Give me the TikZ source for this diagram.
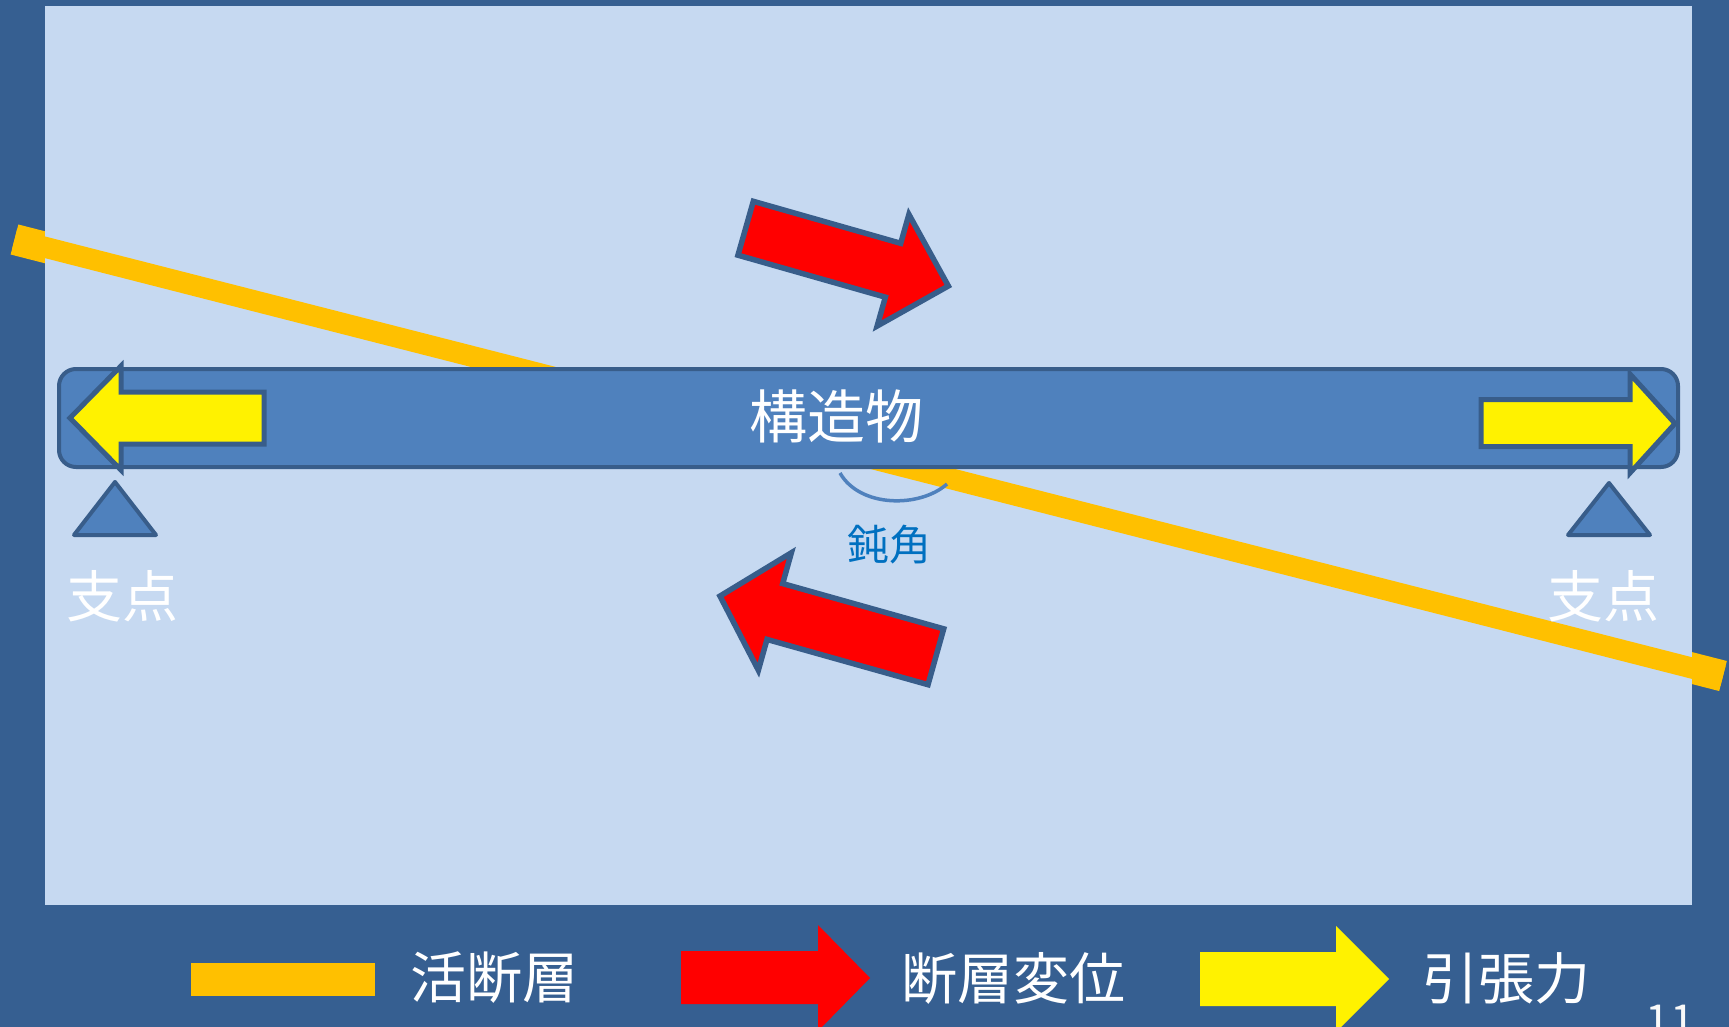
\documentclass[tikz,border=0pt]{standalone}
\usepackage{fontspec}
\newfontfamily\jp{Noto Sans CJK JP}
\definecolor{bgdark}{HTML}{365F91}
\definecolor{panelc}{HTML}{C6D9F1}
\definecolor{beamfill}{HTML}{4F81BD}
\definecolor{beamline}{HTML}{385D8A}
\definecolor{faultc}{HTML}{FFC000}
\definecolor{angc}{HTML}{0070C0}
\tikzset{
  fault/.style={draw=faultc, line cap=butt},
  beambox/.style={draw=beamline, fill=beamfill, line width=4pt, rounded corners=17pt},
  yarrow/.style={draw=beamline, fill=yellow, line width=5pt, line join=miter},
  rarrow/.style={draw=beamline, fill=red, line width=5.5pt, line join=miter},
  support/.style={draw=beamline, fill=beamfill, line width=4pt, line join=round},
  wlabel/.style={text=white, inner sep=0pt, font=\jp\fontsize{56}{60}\selectfont},
  kozolabel/.style={text=white, inner sep=0pt, font=\jp\fontsize{58}{62}\selectfont},
  anglabel/.style={text=angc, inner sep=0pt, font=\jp\fontsize{42}{46}\selectfont},
}
\begin{document}
\begin{tikzpicture}[x=1pt,y=-1pt]
\useasboundingbox (0,0) rectangle (1729,1027);
\clip (0,0) rectangle (1729,1027);
\fill[bgdark] (0,0) rectangle (1729,1027);
% fault line (thicker ends over the frame)
\coordinate (fA) at (14.5,239.5);
\coordinate (fB) at (1723,676);
\draw[fault, line width=31pt] (fA) -- (fB);
\fill[panelc] (45,6) rectangle (1692,905);
\draw[fault, line width=21pt] (fA) -- (fB);
% structure beam
\draw[beambox] (59,369) rectangle (1678,467);
\node[kozolabel] (kozo) at (836,416) {構造物};
% tension arrows on beam
\draw[yarrow] (70,418) -- (121,366) -- (121,392) -- (264,392) -- (264,444) -- (121,444) -- (121,470) -- cycle;
\draw[yarrow] (1481,399.5) -- (1630,399.5) -- (1630,374) -- (1675,423.5) -- (1630,473) -- (1630,446.5) -- (1481,446.5) -- cycle;
% supports
\draw[support] (115,482) -- (156,535) -- (74,535) -- cycle;
\draw[support] (1609,483) -- (1650,535) -- (1568,535) -- cycle;
\node[wlabel] (shitenL) at (122,596) {支点};
\node[wlabel] (shitenR) at (1603,596) {支点};
% obtuse angle arc
\draw[draw=beamfill, line width=3.5pt] (840,473) .. controls (860,508) and (920,508) .. (947,484);
\node[anglabel] (donkaku) at (889,545) {鈍角};
% fault displacement arrows
\begin{scope}[shift={(743,227.5)}, rotate=-15.9]
\draw[rarrow] (2.75,-28) -- (156,-28) -- (156,-58) -- (213.5,0) -- (156,58) -- (156,28) -- (2.75,28) -- cycle;
\end{scope}
\begin{scope}[shift={(938.5,657.5)}, rotate=164.3]
\draw[rarrow] (2.75,-29) -- (170,-29) -- (170,-61) -- (227,0) -- (170,61) -- (170,29) -- (2.75,29) -- cycle;
\end{scope}
% legend
\fill[faultc] (191,963) rectangle (375,996);
\node[wlabel] (lg1) at (494.5,978) {活断層};
\fill[red] (681,951) -- (818,951) -- (818,925) -- (870,978) -- (818,1031) -- (818,1004) -- (681,1004) -- cycle;
\node[wlabel] (lg2) at (1013,978) {断層変位};
\fill[yellow] (1200,952) -- (1336,952) -- (1336,926) -- (1389,979) -- (1336,1032) -- (1336,1006) -- (1200,1006) -- cycle;
\node[wlabel] (lg3) at (1506,978) {引張力};
\node[text=white!95!gray, inner sep=0pt, anchor=base, font=\jp\fontsize{44}{48}\selectfont] (pagenum) at (1670,1036) {11};
\end{tikzpicture}
\end{document}
